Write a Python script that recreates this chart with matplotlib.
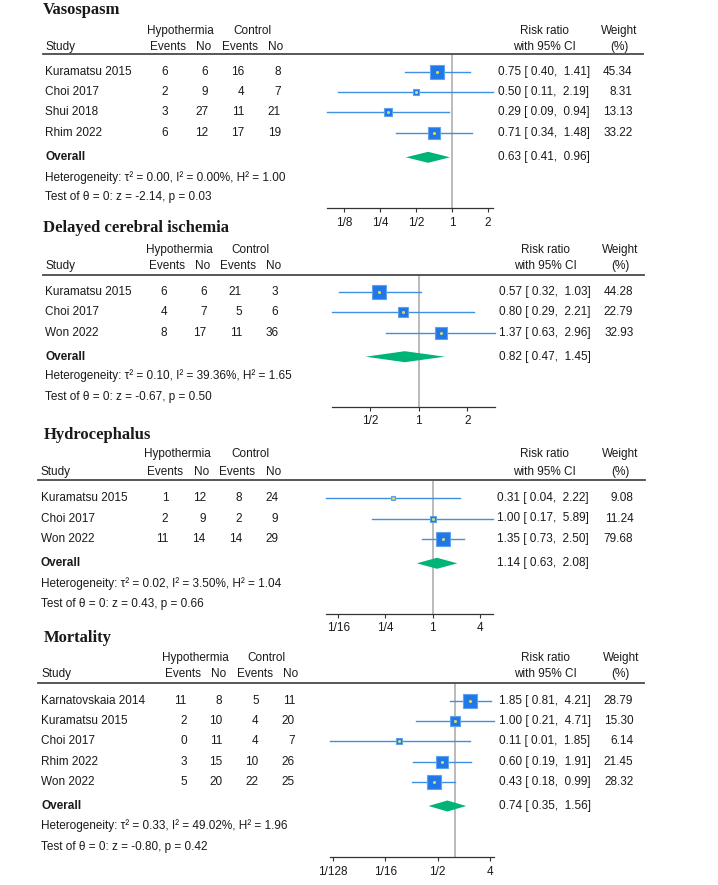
import matplotlib
matplotlib.use("Agg")
import matplotlib.pyplot as plt
from matplotlib.lines import Line2D
from matplotlib.patches import Polygon
import numpy as np

# ---------------- DATA ----------------
vaso_studies = ["Kuramatsu 2015", "Choi 2017", "Shui 2018", "Rhim 2022"]
vaso_hyp_events = [6, 2, 3, 6]
vaso_hyp_no = [6, 9, 27, 12]
vaso_ctl_events = [16, 4, 11, 17]
vaso_ctl_no = [8, 7, 21, 19]
vaso_rr = [0.75, 0.50, 0.29, 0.71]
vaso_lo = [0.40, 0.11, 0.09, 0.34]
vaso_hi = [1.41, 2.19, 0.94, 1.48]
vaso_weight = [45.34, 8.31, 13.13, 33.22]
vaso_overall = [0.63, 0.41, 0.96]
vaso_het = [0.00, 0.00, 1.00]   # tau2, I2, H2
vaso_test = [-2.14, 0.03]       # z, p
vaso_ticks = [1/8, 1/4, 1/2, 1, 2]
vaso_ticklabels = ["1/8", "1/4", "1/2", "1", "2"]

dci_studies = ["Kuramatsu 2015", "Choi 2017", "Won 2022"]
dci_hyp_events = [6, 4, 8]
dci_hyp_no = [6, 7, 17]
dci_ctl_events = [21, 5, 11]
dci_ctl_no = [3, 6, 36]
dci_rr = [0.57, 0.80, 1.37]
dci_lo = [0.32, 0.29, 0.63]
dci_hi = [1.03, 2.21, 2.96]
dci_weight = [44.28, 22.79, 32.93]
dci_overall = [0.82, 0.47, 1.45]
dci_het = [0.10, 39.36, 1.65]
dci_test = [-0.67, 0.50]
dci_ticks = [1/2, 1, 2]
dci_ticklabels = ["1/2", "1", "2"]

hyd_studies = ["Kuramatsu 2015", "Choi 2017", "Won 2022"]
hyd_hyp_events = [1, 2, 11]
hyd_hyp_no = [12, 9, 14]
hyd_ctl_events = [8, 2, 14]
hyd_ctl_no = [24, 9, 29]
hyd_rr = [0.31, 1.00, 1.35]
hyd_lo = [0.043, 0.17, 0.73]
hyd_hi = [2.22, 5.89, 2.50]
hyd_weight = [9.08, 11.24, 79.68]
hyd_overall = [1.14, 0.63, 2.08]
hyd_het = [0.02, 3.50, 1.04]
hyd_test = [0.43, 0.66]
hyd_ticks = [1/16, 1/4, 1, 4]
hyd_ticklabels = ["1/16", "1/4", "1", "4"]

mort_studies = ["Karnatovskaia 2014", "Kuramatsu 2015", "Choi 2017", "Rhim 2022", "Won 2022"]
mort_hyp_events = [11, 2, 0, 3, 5]
mort_hyp_no = [8, 10, 11, 15, 20]
mort_ctl_events = [5, 4, 4, 10, 22]
mort_ctl_no = [11, 20, 7, 26, 25]
mort_rr = [1.85, 1.00, 0.11, 0.60, 0.43]
mort_lo = [0.81, 0.21, 0.007, 0.19, 0.18]
mort_hi = [4.21, 4.71, 1.85, 1.91, 0.99]
mort_weight = [28.79, 15.30, 6.14, 21.45, 28.32]
mort_overall = [0.74, 0.35, 1.56]
mort_het = [0.33, 49.02, 1.96]
mort_test = [-0.80, 0.42]
mort_ticks = [1/128, 1/16, 1/2, 4]
mort_ticklabels = ["1/128", "1/16", "1/2", "4"]

titles = ["Vasospasm", "Delayed cerebral ischemia", "Hydrocephalus", "Mortality"]

# ---------------- STYLE / LAYOUT ----------------
W, H = 718, 885
DPI = 100
FS = 8.5
SANS = ["Liberation Sans", "DejaVu Sans"]
SERIF = ["Liberation Serif", "DejaVu Serif"]
TXT = "#1a1a1a"
SQ_FILL = "#1f77e8"
SQ_EDGE = "#5fa3ef"
DOT = "#d6e05a"
CI_COL = "#3f8fe3"
DIA_COL = "#00b377"
VLINE = "#a8a8a8"
HLINE = "#4a4a4a"

plt.rcParams["font.family"] = SANS

fig = plt.figure(figsize=(W / DPI, H / DPI), dpi=DPI)
fig.patch.set_facecolor("white")


def fx(x):
    return x / W


def fy(y):
    return 1 - y / H


def T(x, y, s, ha="left", size=FS, **kw):
    fig.text(fx(x), fy(y), s, ha=ha, va="center", fontsize=size, color=TXT, **kw)


layouts = [
    dict(title=(43, 10), hdr=(30.7, 46.7), line=(54.3, 43, 643), row0=72, dy=20.2,
         overall=157.3, het=177.3, test=197, axis=(208.3, 327.3, 492.7), study_x=45,
         col_r=[168.3, 208.3, 244.3, 280.7], hyp_c=180, ctl_c=252.5,
         sub_c=[168, 204, 240, 276], rr_x=497.7, w_r=632.3, rr_c=544, w_c=619),
    dict(title=(43.3, 228.3), hdr=(250, 265.7), line=(275, 42.7, 644.3), row0=291.7, dy=20.5,
         overall=356.7, het=376, test=396.7, axis=(406.7, 331.7, 495), study_x=45.3,
         col_r=[167.3, 206.7, 242, 278.3], hyp_c=179.3, ctl_c=250.7,
         sub_c=[166.5, 202.2, 238.2, 273.8], rr_x=499.3, w_r=633.3, rr_c=545.7, w_c=620),
    dict(title=(43.3, 435), hdr=(454.3, 471.7), line=(480.3, 38.3, 645), row0=498.3, dy=20.2,
         overall=563.3, het=583.3, test=604, axis=(614, 325.7, 492.7), study_x=40.7,
         col_r=[168.3, 205.7, 242, 278.3], hyp_c=177.7, ctl_c=250.5,
         sub_c=[165, 201.3, 237.5, 274], rr_x=497.3, w_r=633.3, rr_c=544.3, w_c=620),
    dict(title=(43.3, 637.7), hdr=(657.7, 674.3), line=(683.3, 38.3, 644.3), row0=701, dy=20.2,
         overall=806, het=826, test=846.7, axis=(857.3, 330, 494), study_x=41,
         col_r=[186.7, 222.3, 258.7, 295], hyp_c=195.2, ctl_c=266.8,
         sub_c=[182.7, 218.8, 254.7, 290.5], rr_x=499, w_r=633.3, rr_c=545.7, w_c=620.7),
]

panels = [
    (vaso_studies, vaso_hyp_events, vaso_hyp_no, vaso_ctl_events, vaso_ctl_no, vaso_rr, vaso_lo,
     vaso_hi, vaso_weight, vaso_overall, vaso_het, vaso_test, vaso_ticks, vaso_ticklabels),
    (dci_studies, dci_hyp_events, dci_hyp_no, dci_ctl_events, dci_ctl_no, dci_rr, dci_lo,
     dci_hi, dci_weight, dci_overall, dci_het, dci_test, dci_ticks, dci_ticklabels),
    (hyd_studies, hyd_hyp_events, hyd_hyp_no, hyd_ctl_events, hyd_ctl_no, hyd_rr, hyd_lo,
     hyd_hi, hyd_weight, hyd_overall, hyd_het, hyd_test, hyd_ticks, hyd_ticklabels),
    (mort_studies, mort_hyp_events, mort_hyp_no, mort_ctl_events, mort_ctl_no, mort_rr, mort_lo,
     mort_hi, mort_weight, mort_overall, mort_het, mort_test, mort_ticks, mort_ticklabels),
]

for title, L, P in zip(titles, layouts, panels):
    (studies, he, hn, ce, cn, rr, lo, hi, wt, ov, het, test, ticks, ticklabels) = P

    # title
    T(L["title"][0], L["title"][1], title, size=12, fontweight="bold", family=SERIF)

    # headers
    h1, h2 = L["hdr"]
    T(L["hyp_c"], h1, "Hypothermia", ha="center")
    T(L["ctl_c"], h1, "Control", ha="center")
    T(L["study_x"], h2, "Study")
    for xc, s in zip(L["sub_c"], ["Events", "No", "Events", "No"]):
        T(xc, h2, s, ha="center")
    T(L["rr_c"], h1, "Risk ratio", ha="center")
    T(L["rr_c"], h2, "with 95% CI", ha="center")
    T(L["w_c"], h1, "Weight", ha="center")
    T(L["w_c"], h2, "(%)", ha="center")

    ly, lx0, lx1 = L["line"]
    fig.add_artist(Line2D([fx(lx0), fx(lx1)], [fy(ly), fy(ly)], color=HLINE, lw=1.3,
                          transform=fig.transFigure))

    # rows text
    n = len(studies)
    row_y = [L["row0"] + i * L["dy"] for i in range(n)]
    for i in range(n):
        y = row_y[i]
        T(L["study_x"], y, studies[i])
        for xr, v in zip(L["col_r"], [he[i], hn[i], ce[i], cn[i]]):
            T(xr, y, str(v), ha="right")
        T(L["rr_x"], y, f"{rr[i]:.2f} [ {lo[i]:.2f},  {hi[i]:.2f}]")
        T(L["w_r"], y, f"{wt[i]:.2f}", ha="right")

    T(L["study_x"], L["overall"], "Overall", fontweight="bold")
    T(L["rr_x"], L["overall"], f"{ov[0]:.2f} [ {ov[1]:.2f},  {ov[2]:.2f}]")
    T(L["study_x"], L["het"],
      f"Heterogeneity: τ² = {het[0]:.2f}, I² = {het[1]:.2f}%, H² = {het[2]:.2f}")
    T(L["study_x"], L["test"], f"Test of θ = 0: z = {test[0]:.2f}, p = {test[1]:.2f}")

    # forest axes: y in pixel units, top = header line, bottom = axis line
    ay, ax0, ax1 = L["axis"]
    ax = fig.add_axes([fx(ax0), fy(ay), fx(ax1) - fx(ax0), (ay - ly) / H])
    ax.set_xscale("log", base=2)
    ax.set_xlim(min(lo), max(hi))
    ax.set_ylim(ay, ly)
    ax.patch.set_alpha(0)
    for sp in ["top", "right", "left"]:
        ax.spines[sp].set_visible(False)
    ax.spines["bottom"].set_color("#333333")
    ax.spines["bottom"].set_linewidth(0.9)
    ax.set_yticks([])
    ax.xaxis.set_major_locator(matplotlib.ticker.FixedLocator(ticks))
    ax.xaxis.set_minor_locator(matplotlib.ticker.NullLocator())
    ax.set_xticks(ticks)
    ax.set_xticklabels(ticklabels)
    ax.tick_params(axis="x", length=3, width=0.8, color="#333333", labelsize=FS,
                   labelcolor=TXT, pad=3)

    ax.axvline(1, color=VLINE, lw=1.1, zorder=1)

    wmax = max(wt)
    for i in range(n):
        y = row_y[i]
        ax.plot([lo[i], hi[i]], [y, y], color=CI_COL, lw=1.0, zorder=2, clip_on=False)
        side_px = 14 * np.sqrt(wt[i] / wmax)
        ax.plot([rr[i]], [y], marker="s", markersize=side_px * 72 / DPI,
                markerfacecolor=SQ_FILL, markeredgecolor=SQ_EDGE, markeredgewidth=0.8,
                zorder=3, clip_on=False)
        ax.plot([rr[i]], [y], marker="o", markersize=2.2, markerfacecolor=DOT,
                markeredgecolor=DOT, markeredgewidth=0, zorder=4, clip_on=False)

    oy = L["overall"]
    hh = 5.5
    dia = Polygon([[ov[1], oy], [ov[0], oy - hh], [ov[2], oy], [ov[0], oy + hh]],
                  closed=True, facecolor=DIA_COL, edgecolor="none", zorder=3)
    ax.add_patch(dia)

fig.savefig("out.png", dpi=DPI, facecolor="white")
